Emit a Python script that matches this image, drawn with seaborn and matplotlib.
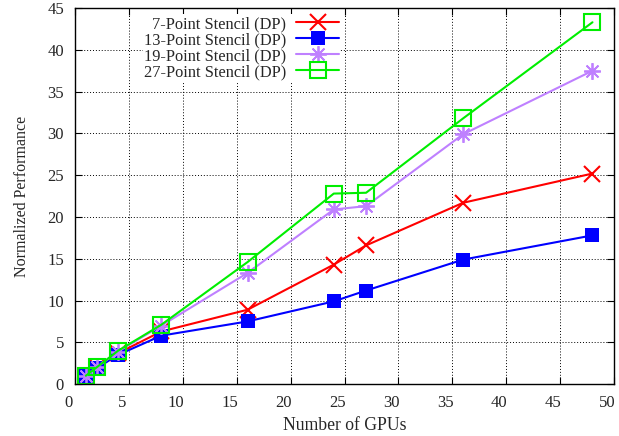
"""
Escalado multi-GPU de los stencils: rendimiento normalizado frente a número de GPUs.
"""

import matplotlib
matplotlib.use("Agg")
import matplotlib.pyplot as plt
import matplotlib.transforms as mtransforms
import seaborn as sns
import pandas as pd

GPUS = [1, 2, 4, 8, 16, 24, 27, 36, 48]

STENCIL_7 = [1.0, 2.0, 3.7, 6.3, 8.9, 14.3, 16.6, 21.7, 25.2]
STENCIL_13 = [1.0, 1.9, 3.5, 5.8, 7.5, 9.9, 11.2, 14.9, 17.8]
STENCIL_19 = [1.0, 2.0, 3.9, 7.0, 13.3, 20.9, 21.3, 29.9, 37.5]
STENCIL_27 = [1.0, 2.0, 4.0, 7.1, 14.6, 22.8, 22.9, 31.8, 43.3]

SERIES = [
    "7-Point Stencil (DP)",
    "13-Point Stencil (DP)",
    "19-Point Stencil (DP)",
    "27-Point Stencil (DP)",
]

COLORS = ["#ff0000", "#0000ff", "#bf80ff", "#00ee00"]

# ─────────────────────────────────────────────
# DATOS EN FORMATO LARGO
# ─────────────────────────────────────────────
rows = []
for name, vals in zip(SERIES, [STENCIL_7, STENCIL_13, STENCIL_19, STENCIL_27]):
    for g, v in zip(GPUS, vals):
        rows.append({"gpus": g, "perf": v, "serie": name})
df = pd.DataFrame(rows)

sns.set_style("ticks")
plt.rcParams["font.family"] = ["Liberation Serif", "DejaVu Serif"]

fig = plt.figure(figsize=(6.19, 4.36), dpi=100)
ax = fig.add_axes([0.1212, 0.119, 0.8708, 0.8625])

# estilo de cada serie (tipo gnuplot)
styles = {
    SERIES[0]: dict(marker="x", markersize=11, markeredgewidth=1.5),
    SERIES[1]: dict(marker="s", markersize=10, markeredgewidth=0),
    SERIES[2]: dict(marker=(8, 2, 0), markersize=12, markeredgewidth=1.3),
    SERIES[3]: dict(marker="s", markersize=11, markeredgewidth=1.5,
                    markerfacecolor="none"),
}

for name, color in zip(SERIES, COLORS):
    sub = df[df["serie"] == name]
    sns.lineplot(data=sub, x="gpus", y="perf", color=color, linewidth=1.5,
                 label=name, ax=ax, markeredgecolor=color, **styles[name])

ax.set_xlim(0, 50)
ax.set_ylim(0, 45)
ax.set_xticks(range(0, 51, 5))
ax.set_yticks(range(0, 46, 5))
ax.grid(True, color="black", linestyle=(0, (1, 2)), linewidth=0.7)
ax.tick_params(direction="in", top=True, right=True, length=5,
               labelsize=12, color="black")
ax.tick_params(axis="x", pad=8)
ax.tick_params(axis="y", pad=8)
for s in ax.spines.values():
    s.set_color("black")
    s.set_linewidth(1.0)
    s.set_zorder(6)   # el marco queda por encima de la leyenda

# gnuplot desplaza las etiquetas del eje x un poco a la izquierda
shift = mtransforms.ScaledTranslation(-7 / 100, 0, fig.dpi_scale_trans)
for lbl in ax.get_xticklabels():
    lbl.set_transform(lbl.get_transform() + shift)

ax.set_xlabel("Number of GPUs", fontsize=12.7)
ax.set_ylabel("Normalized Performance", fontsize=11.5, labelpad=12)

leg = ax.legend(loc="upper left", bbox_to_anchor=(0.11, 1.005), markerfirst=False,
                frameon=True, fontsize=11.8, handlelength=2.6,
                labelspacing=0.0, borderpad=0.1, handletextpad=0.6)
leg.get_frame().set_edgecolor("none")
leg.get_frame().set_facecolor("white")
leg.get_frame().set_alpha(1.0)
leg.get_frame().set_boxstyle("square", pad=0)

plt.savefig("out.png", dpi=100)
